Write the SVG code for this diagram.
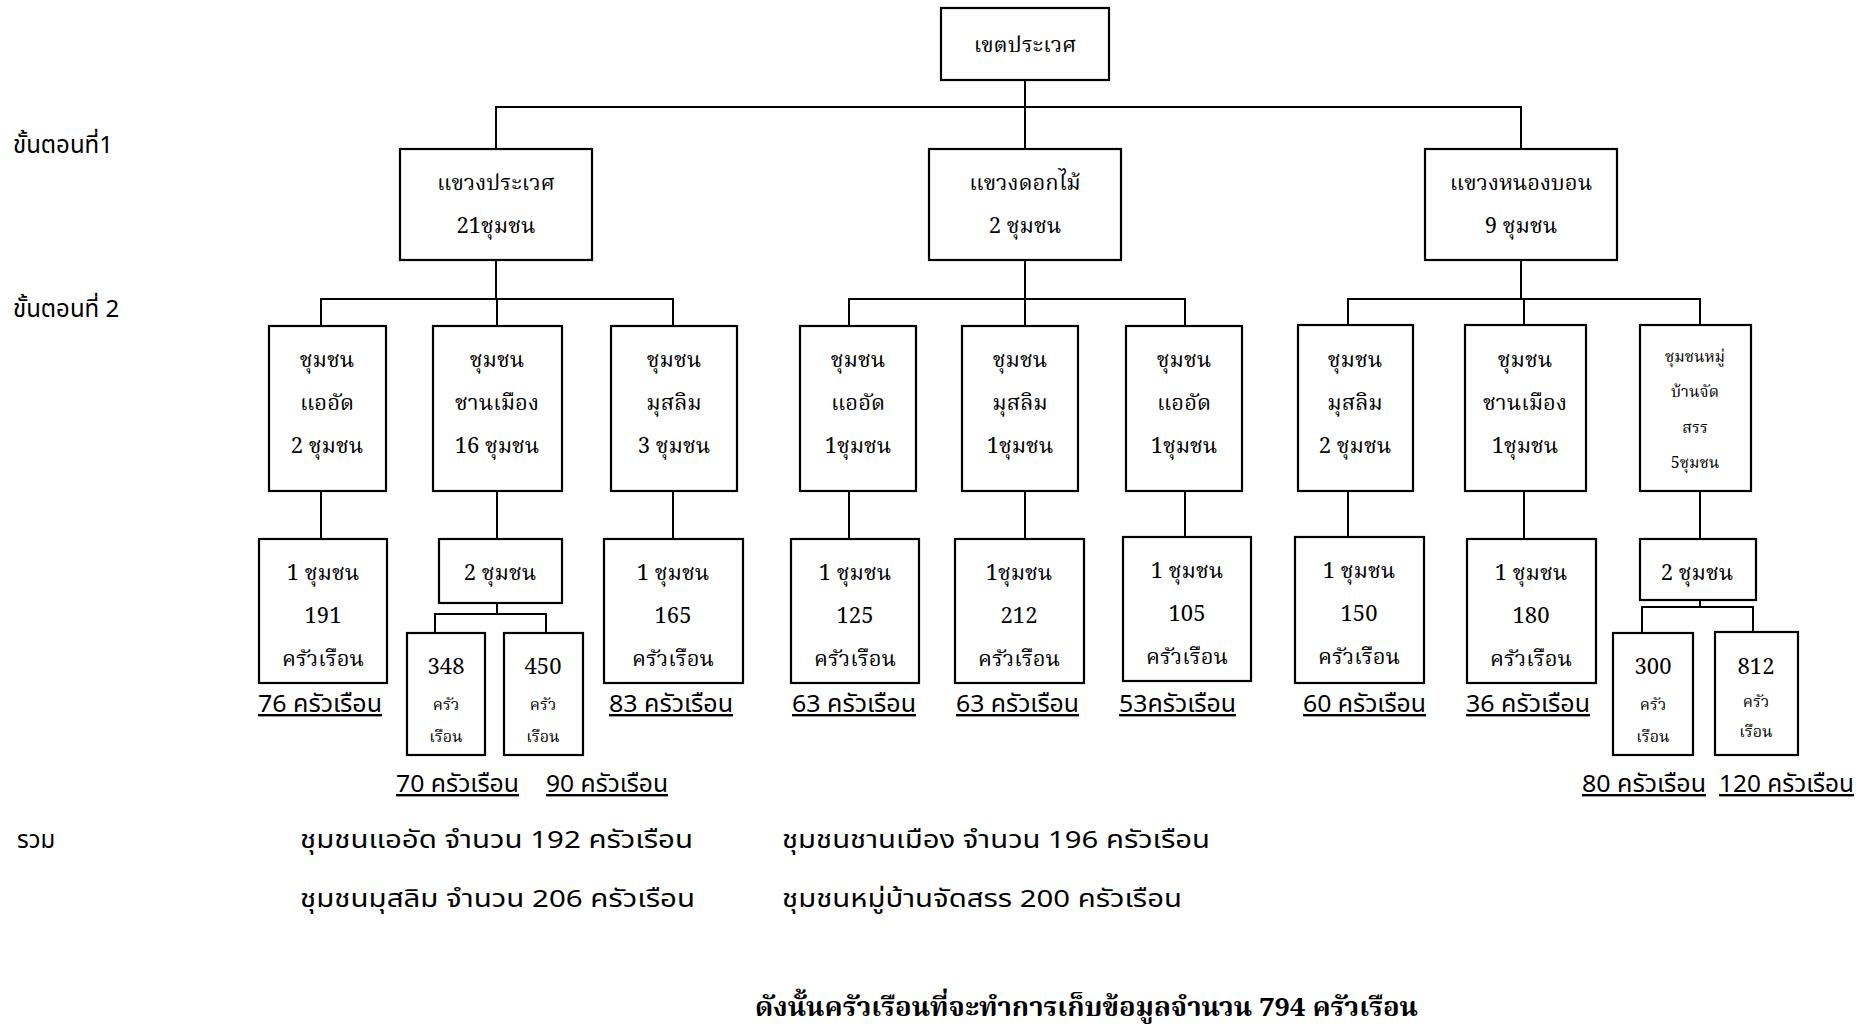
<svg xmlns="http://www.w3.org/2000/svg" width="1874" height="1034" viewBox="0 0 1874 1034">
<style>
.bx{fill:#fff;stroke:#000;stroke-width:2.2}
.cn{fill:none;stroke:#000;stroke-width:2}
.sr{font-family:"Noto Serif Thai","Liberation Serif",serif;font-size:22px;fill:#000;text-anchor:middle}
.srs{font-family:"Noto Serif Thai","Liberation Serif",serif;font-size:16px;fill:#000;text-anchor:middle}
.ss{font-family:"Noto Sans Thai","Liberation Sans",sans-serif;font-size:24px;fill:#000}
.ul{font-family:"Noto Sans Thai","Liberation Sans",sans-serif;font-size:24px;fill:#000;text-decoration:underline}
.bd{font-family:"Noto Serif Thai","Liberation Serif",serif;font-size:26px;font-weight:bold;fill:#000}
</style>
<rect width="1874" height="1034" fill="#fff"/>
<g id="connectors">
<path class="cn" d="M1025 80V149M496 149V107H1521V149"/>
<path class="cn" d="M496 260V299M1025 260V299M1521 260V299"/>
<path class="cn" d="M321 326V299H673V326M497 299V326"/>
<path class="cn" d="M849 326V299H1185V326M1025 299V326"/>
<path class="cn" d="M1348 326V299H1700V326M1524 299V326"/>
<path class="cn" d="M321 491V539M497 491V539M673 491V539M849 491V539M1025 491V539M1185 491V537M1348 491V537M1524 491V539M1700 491V539"/>
<path class="cn" d="M497 603V614M435 633V614H546V633"/>
<path class="cn" d="M1700 600V607M1642 633V607H1753V632"/>
</g>
<g id="labels-left">
<text class="ss" x="13" y="153">ขั้นตอนที่1</text>
<text class="ss" x="13" y="317">ขั้นตอนที่ 2</text>
<text class="ss" x="17" y="848">รวม</text>
</g>
<g id="n-root"><rect class="bx" x="941" y="8" width="168" height="72"/><text class="sr" x="1025" y="52">เขตประเวศ</text></g>
<g id="n-prawet"><rect class="bx" x="400" y="149" width="192" height="111"/><text class="sr" x="496" y="190">แขวงประเวศ</text><text class="sr" x="496" y="233">21ชุมชน</text></g>
<g id="n-dokmai"><rect class="bx" x="929" y="149" width="192" height="111"/><text class="sr" x="1025" y="190">แขวงดอกไม้</text><text class="sr" x="1025" y="233">2 ชุมชน</text></g>
<g id="n-nongbon"><rect class="bx" x="1425" y="149" width="192" height="111"/><text class="sr" x="1521" y="190">แขวงหนองบอน</text><text class="sr" x="1521" y="233">9 ชุมชน</text></g>

<g id="n-l2-1"><rect class="bx" x="269" y="326" width="117" height="165"/><text class="sr" x="327" y="367">ชุมชน</text><text class="sr" x="327" y="410">แออัด</text><text class="sr" x="327" y="453">2 ชุมชน</text></g>
<g id="n-l2-2"><rect class="bx" x="433" y="326" width="129" height="165"/><text class="sr" x="497" y="367">ชุมชน</text><text class="sr" x="497" y="410">ชานเมือง</text><text class="sr" x="497" y="453">16 ชุมชน</text></g>
<g id="n-l2-3"><rect class="bx" x="611" y="326" width="126" height="165"/><text class="sr" x="674" y="367">ชุมชน</text><text class="sr" x="674" y="410">มุสลิม</text><text class="sr" x="674" y="453">3 ชุมชน</text></g>
<g id="n-l2-4"><rect class="bx" x="800" y="326" width="116" height="165"/><text class="sr" x="858" y="367">ชุมชน</text><text class="sr" x="858" y="410">แออัด</text><text class="sr" x="858" y="453">1ชุมชน</text></g>
<g id="n-l2-5"><rect class="bx" x="962" y="326" width="116" height="165"/><text class="sr" x="1020" y="367">ชุมชน</text><text class="sr" x="1020" y="410">มุสลิม</text><text class="sr" x="1020" y="453">1ชุมชน</text></g>
<g id="n-l2-6"><rect class="bx" x="1126" y="326" width="116" height="165"/><text class="sr" x="1184" y="367">ชุมชน</text><text class="sr" x="1184" y="410">แออัด</text><text class="sr" x="1184" y="453">1ชุมชน</text></g>
<g id="n-l2-7"><rect class="bx" x="1298" y="325" width="115" height="166"/><text class="sr" x="1355" y="367">ชุมชน</text><text class="sr" x="1355" y="410">มุสลิม</text><text class="sr" x="1355" y="453">2 ชุมชน</text></g>
<g id="n-l2-8"><rect class="bx" x="1465" y="325" width="121" height="166"/><text class="sr" x="1525" y="367">ชุมชน</text><text class="sr" x="1525" y="410">ชานเมือง</text><text class="sr" x="1525" y="453">1ชุมชน</text></g>
<g id="n-l2-9"><rect class="bx" x="1640" y="325" width="111" height="166"/><text class="srs" x="1695" y="362">ชุมชนหมู่</text><text class="srs" x="1695" y="397">บ้านจัด</text><text class="srs" x="1695" y="433">สรร</text><text class="srs" x="1695" y="468">5ชุมชน</text></g>

<g id="n-l3-1"><rect class="bx" x="259" y="539" width="128" height="144"/><text class="sr" x="323" y="580">1 ชุมชน</text><text class="sr" x="323" y="623">191</text><text class="sr" x="323" y="666">ครัวเรือน</text></g>
<g id="n-l3-2"><rect class="bx" x="439" y="539" width="123" height="64"/><text class="sr" x="500" y="580">2  ชุมชน</text></g>
<g id="n-l3-3"><rect class="bx" x="604" y="539" width="139" height="144"/><text class="sr" x="673" y="580">1  ชุมชน</text><text class="sr" x="673" y="623">165</text><text class="sr" x="673" y="666">ครัวเรือน</text></g>
<g id="n-l3-4"><rect class="bx" x="791" y="539" width="128" height="144"/><text class="sr" x="855" y="580">1  ชุมชน</text><text class="sr" x="855" y="623">125</text><text class="sr" x="855" y="666">ครัวเรือน</text></g>
<g id="n-l3-5"><rect class="bx" x="955" y="539" width="129" height="144"/><text class="sr" x="1019" y="580">1ชุมชน</text><text class="sr" x="1019" y="623">212</text><text class="sr" x="1019" y="666">ครัวเรือน</text></g>
<g id="n-l3-6"><rect class="bx" x="1123" y="537" width="128" height="144"/><text class="sr" x="1187" y="578">1  ชุมชน</text><text class="sr" x="1187" y="621">105</text><text class="sr" x="1187" y="664">ครัวเรือน</text></g>
<g id="n-l3-7"><rect class="bx" x="1295" y="537" width="129" height="146"/><text class="sr" x="1359" y="578">1 ชุมชน</text><text class="sr" x="1359" y="621">150</text><text class="sr" x="1359" y="664">ครัวเรือน</text></g>
<g id="n-l3-8"><rect class="bx" x="1467" y="539" width="129" height="144"/><text class="sr" x="1531" y="580">1 ชุมชน</text><text class="sr" x="1531" y="623">180</text><text class="sr" x="1531" y="666">ครัวเรือน</text></g>
<g id="n-l3-9"><rect class="bx" x="1640" y="539" width="116" height="61"/><text class="sr" x="1697" y="580">2 ชุมชน</text></g>

<g id="n-l4-1"><rect class="bx" x="407" y="633" width="78" height="122"/><text class="sr" x="446" y="674">348</text><text class="srs" x="446" y="710">ครัว</text><text class="srs" x="446" y="742">เรือน</text></g>
<g id="n-l4-2"><rect class="bx" x="504" y="633" width="79" height="122"/><text class="sr" x="543" y="674">450</text><text class="srs" x="543" y="710">ครัว</text><text class="srs" x="543" y="742">เรือน</text></g>
<g id="n-l4-3"><rect class="bx" x="1613" y="633" width="80" height="122"/><text class="sr" x="1653" y="674">300</text><text class="srs" x="1653" y="710">ครัว</text><text class="srs" x="1653" y="742">เรือน</text></g>
<g id="n-l4-4"><rect class="bx" x="1715" y="632" width="83" height="123"/><text class="sr" x="1756" y="674">812</text><text class="srs" x="1756" y="707">ครัว</text><text class="srs" x="1756" y="737">เรือน</text></g>

<g id="sample-labels">
<text class="ul" x="258" y="712" textLength="124" lengthAdjust="spacingAndGlyphs">76 ครัวเรือน</text>
<text class="ul" x="609" y="712" textLength="124" lengthAdjust="spacingAndGlyphs">83 ครัวเรือน</text>
<text class="ul" x="792" y="712" textLength="124" lengthAdjust="spacingAndGlyphs">63 ครัวเรือน</text>
<text class="ul" x="956" y="712" textLength="123" lengthAdjust="spacingAndGlyphs">63 ครัวเรือน</text>
<text class="ul" x="1119" y="712" textLength="117" lengthAdjust="spacingAndGlyphs">53ครัวเรือน</text>
<text class="ul" x="1303" y="712" textLength="123" lengthAdjust="spacingAndGlyphs">60 ครัวเรือน</text>
<text class="ul" x="1466" y="712" textLength="124" lengthAdjust="spacingAndGlyphs">36 ครัวเรือน</text>
<text class="ul" x="396" y="792" textLength="123" lengthAdjust="spacingAndGlyphs">70 ครัวเรือน</text>
<text class="ul" x="546" y="792" textLength="122" lengthAdjust="spacingAndGlyphs">90 ครัวเรือน</text>
<text class="ul" x="1582" y="792" textLength="124" lengthAdjust="spacingAndGlyphs">80 ครัวเรือน</text>
<text class="ul" x="1719" y="792" textLength="135" lengthAdjust="spacingAndGlyphs">120 ครัวเรือน</text>
</g>
<g id="summary">
<text class="ss" x="300" y="848" textLength="393" lengthAdjust="spacingAndGlyphs">ชุมชนแออัด จำนวน 192 ครัวเรือน</text>
<text class="ss" x="782" y="848" textLength="428" lengthAdjust="spacingAndGlyphs">ชุมชนชานเมือง จำนวน 196 ครัวเรือน</text>
<text class="ss" x="300" y="907" textLength="395" lengthAdjust="spacingAndGlyphs">ชุมชนมุสลิม จำนวน 206 ครัวเรือน</text>
<text class="ss" x="782" y="907" textLength="400" lengthAdjust="spacingAndGlyphs">ชุมชนหมู่บ้านจัดสรร 200 ครัวเรือน</text>
<text class="bd" x="755" y="1016" textLength="663" lengthAdjust="spacingAndGlyphs">ดังนั้นครัวเรือนที่จะทำการเก็บข้อมูลจำนวน 794 ครัวเรือน</text>
</g>
</svg>
